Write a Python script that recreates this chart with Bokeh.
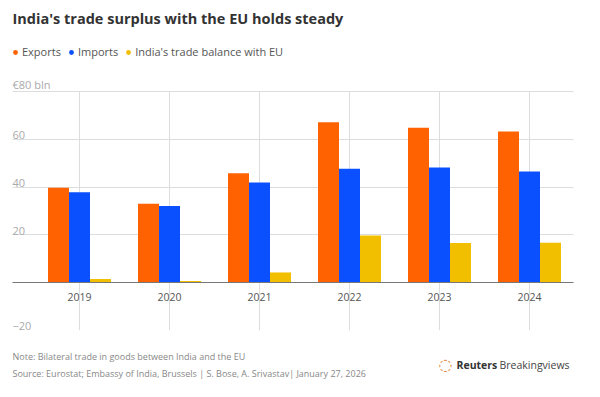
from bokeh.plotting import figure
from bokeh.models import (Range1d, LinearAxis, FixedTicker, Grid, Label, Legend,
                          LegendItem, ColumnDataSource)
from bokeh.transform import dodge
from bokeh.embed import file_html
from bokeh.resources import INLINE

# ---- data ----
years = ["2019", "2020", "2021", "2022", "2023", "2024"]
exports = [39.7, 33.0, 45.8, 67.1, 64.8, 63.2]
imports = [37.8, 32.0, 41.9, 47.6, 48.2, 46.5]
balance = [1.5, 0.6, 4.2, 19.7, 16.5, 16.6]
ytick_vals = [-20, 20, 40, 60, 80]
ytick_labels = ["\u221220", "20", "40", "60", "\u20ac80 bln"]
grid_vals = [20, 40, 60, 80]
series_names = ["Exports", "Imports", "India's trade balance with EU"]
series_colors = ["#FF6200", "#0A50FF", "#F2BF00"]
title_text = "India's trade surplus with the EU holds steady"
note_text = "Note: Bilateral trade in goods between India and the EU"
source_text = "Source: Eurostat; Embassy of India, Brussels | S. Bose, A. Srivastav| January 27, 2026"

FONT = "Open Sans"
W, H = 600, 397
# layout in canvas pixels
X0_PX, CAT_PX = 79.0, 90.0          # first category centre, category spacing
Y0_PX, PX_PER_UNIT = 282.0, 2.3875  # zero line, pixels per EUR bn
PLOT_L_PX, PLOT_R_PX = 12.0, 573.0  # extent of the horizontal grid

def xd(px):
    return (px - X0_PX) / CAT_PX

def yd(py):
    return (Y0_PX - py) / PX_PER_UNIT

xs = list(range(len(years)))
src = ColumnDataSource(dict(x=xs, years=years, exports=exports,
                            imports=imports, balance=balance))

p = figure(width=W, height=H, output_backend="svg", toolbar_location=None,
           x_range=Range1d(xd(0), xd(W)), y_range=Range1d(yd(H), yd(0)),
           x_axis_type=None, y_axis_type=None,
           min_border=0, min_border_left=0, min_border_right=0,
           min_border_top=0, min_border_bottom=0)
p.outline_line_color = None
p.background_fill_color = "white"
p.border_fill_color = "white"

# horizontal grid, limited to the plot strip
xb = (xd(PLOT_L_PX), xd(PLOT_R_PX))
try:
    hgrid = Grid(dimension=1, ticker=FixedTicker(ticks=grid_vals),
                 grid_line_color="#dddddd", grid_line_width=1, cross_bounds=xb)
    p.add_layout(hgrid)
except Exception:
    gsrc = ColumnDataSource(dict(y=grid_vals))
    p.segment(x0=xb[0], x1=xb[1], y0="y", y1="y", source=gsrc,
              line_color="#dddddd", line_width=1, level="underlay")

# vertical grid lines at categories
p.segment(x0="x", x1="x", y0=min(ytick_vals), y1=max(ytick_vals), source=src,
          line_color="#dddddd", line_width=1, level="underlay")

bw = 0.2333
cols = ["exports", "imports", "balance"]
offsets = [-bw, 0.0, bw]
legend_items = []
for col, off, name, color in zip(cols, offsets, series_names, series_colors):
    p.vbar(x=dodge("x", off), top=col, width=bw, bottom=0, source=src,
           fill_color=color, line_color=None)
    dot = p.scatter(x=dodge("x", off), y=col, size=0, source=src,
                    fill_color=color, line_color=None)
    legend_items.append(LegendItem(label=name, renderers=[dot]))

# x axis at zero
xaxis = LinearAxis(ticker=FixedTicker(ticks=xs),
                   major_label_overrides={i: y for i, y in zip(xs, years)},
                   fixed_location=0, bounds=xb,
                   axis_line_color="#777777", axis_line_width=1,
                   major_tick_line_color=None, minor_tick_line_color=None,
                   major_label_standoff=4,
                   major_label_text_font=FONT,
                   major_label_text_font_size="10.5px",
                   major_label_text_color="#555555")
p.add_layout(xaxis, "below")

# y tick labels above gridlines
for v, t in zip(ytick_vals, ytick_labels):
    p.add_layout(Label(x=xb[0], y=v, text=t,
                       text_baseline="bottom", text_align="left",
                       text_font=FONT, text_font_size="11px",
                       text_color="#aaaaaa"))

legend = Legend(items=legend_items, orientation="horizontal",
                location=(9, H - 59), padding=0, margin=0,
                spacing=4, glyph_width=12, glyph_height=14, label_height=14,
                label_standoff=1, border_line_color=None,
                background_fill_alpha=0,
                label_text_font=FONT, label_text_font_size="11px",
                label_text_color="#555555")
p.add_layout(legend)


def lab(text, px, py, size, color, style="normal", font=FONT, align="left"):
    p.add_layout(Label(x=px, y=H - py, x_units="screen",
                       y_units="screen", text=text, text_font=font,
                       text_font_size=size, text_color=color,
                       text_font_style=style, text_baseline="middle",
                       text_align=align))


lab(title_text, 12, 18, "14.5px", "#333333", "bold")
lab(note_text, 12, 356, "9px", "#888888")
lab(source_text, 12, 373, "9px", "#888888")
lab("\u25cc", 445, 364, "16px", "#E0853A", font="DejaVu Sans", align="center")
lab("Reuters", 456, 364, "10.5px", "#333333", "bold")
lab("Breakingviews", 499, 364, "10.5px", "#444444")

open("out.html", "w").write(file_html(p, INLINE))
